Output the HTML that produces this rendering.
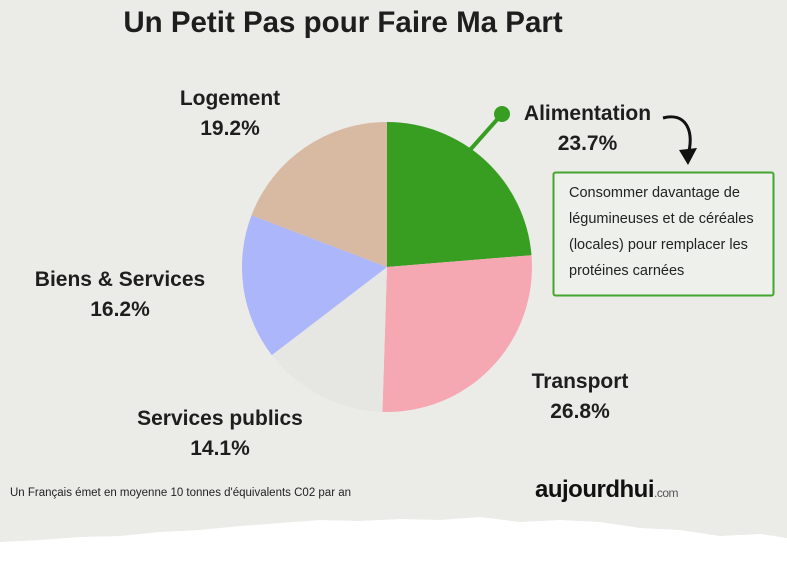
<!DOCTYPE html>
<html><head><meta charset="utf-8"><style>
body{margin:0;width:787px;height:563px;overflow:hidden;background:#fff;font-family:"Liberation Sans",sans-serif}
.t{position:absolute;font-weight:bold;color:#1e1e1e;text-align:center}
</style></head><body>
<svg width="787" height="563" style="position:absolute;left:0;top:0">
<path d="M0,0H787V538L760,534L720,536L680,530L640,528L600,522L560,520L520,522L480,517L440,520L400,519L360,521L320,520L280,523L240,526L200,530L160,532L120,536L80,537L40,540L0,542Z" fill="#ebebe8"/>
<g transform="translate(387,267)">
<path d="M0,0L0,-145A145,145 0 0 1 144.5,-11.8Z" fill="#389e22"/>
<path d="M0,0L144.5,-11.8A145,145 0 0 1 -4.6,144.9Z" fill="#f5a8b1"/>
<path d="M0,0L-4.6,144.9A145,145 0 0 1 -115.2,88.1Z" fill="#e6e6e3"/>
<path d="M0,0L-115.2,88.1A145,145 0 0 1 -135.5,-51.7Z" fill="#abb6fb"/>
<path d="M0,0L-135.5,-51.7A145,145 0 0 1 0,-145Z" fill="#d8b9a2"/>
</g>
<line x1="470" y1="150" x2="502" y2="114" stroke="#389e22" stroke-width="4"/>
<circle cx="502" cy="114" r="8" fill="#389e22"/>
<path d="M663,118C685,112 695,130 688,155" stroke="#111" stroke-width="3" fill="none"/>
<path d="M679,150L688,165L697,148Z" fill="#111"/>
<rect x="553.5" y="172.5" width="220" height="123" rx="2" fill="#eef0ec" stroke="#44a52e" stroke-width="2"/>
</svg>
<div class="t" style="left:93px;top:6px;width:500px;font-size:29.5px">Un Petit Pas pour Faire Ma Part</div>
<div class="t" style="left:140px;top:84px;width:180px;font-size:21px;line-height:30px">Logement<br>19.2%</div>
<div class="t" style="left:495px;top:99px;width:185px;font-size:21px;line-height:30px">Alimentation<br>23.7%</div>
<div class="t" style="left:5px;top:265px;width:230px;font-size:21px;line-height:30px">Biens &amp; Services<br>16.2%</div>
<div class="t" style="left:490px;top:367px;width:180px;font-size:21px;line-height:30px">Transport<br>26.8%</div>
<div class="t" style="left:100px;top:404px;width:240px;font-size:21px;line-height:30px">Services publics<br>14.1%</div>
<div style="position:absolute;left:569px;top:180px;font-size:14.5px;line-height:26px;color:#222">Consommer davantage de<br>légumineuses et de céréales<br>(locales) pour remplacer les<br>protéines carnées</div>
<div style="position:absolute;left:10px;top:487px;font-size:11.5px;color:#222">Un Français émet en moyenne 10 tonnes d'équivalents C02 par an</div>
<div style="position:absolute;left:535px;top:476px;font-size:24px;font-weight:bold;color:#111;letter-spacing:-0.5px">aujourdhui<span style="font-size:12px;font-weight:normal;color:#555">.com</span></div>
</body></html>
